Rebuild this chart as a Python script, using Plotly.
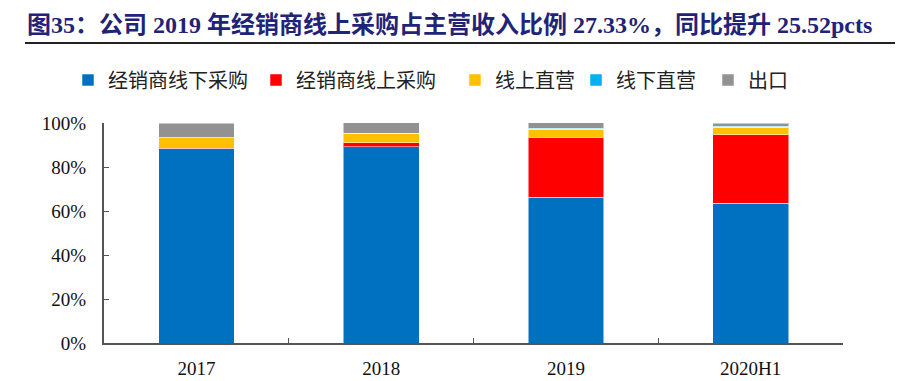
import plotly.graph_objects as go

categories = ["2017", "2018", "2019", "2020H1"]
series_names = ["经销商线下采购", "经销商线上采购", "线上直营", "线下直营", "出口"]
offline_dealer = [0.883, 0.893, 0.662, 0.635]
online_dealer = [0.003, 0.0181, 0.2733, 0.312]
online_direct = [0.046, 0.042, 0.036, 0.033]
offline_direct = [0.004, 0.000, 0.005, 0.006]
export = [0.064, 0.047, 0.024, 0.014]
colors = ["#0070C0", "#FF0000", "#FFC000", "#00B0F0", "#929292"]
tick_vals = [0, 0.2, 0.4, 0.6, 0.8, 1.0]
tick_text = ["0%", "20%", "40%", "60%", "80%", "100%"]
title_text = "图35：公司 2019 年经销商线上采购占主营收入比例 27.33%，同比提升 25.52pcts"

values = [offline_dealer, online_dealer, online_direct, offline_direct, export]

W, H = 898, 373          # page body has an 8px margin
L, T, PW, PH = 96, 115, 739, 220
legend_px = [60, 248, 447, 568, 700]

fig = go.Figure()
for i, (name, vals, col) in enumerate(zip(series_names, values, colors)):
    lg = "legend" if i == 0 else f"legend{i+1}"
    fig.add_trace(go.Bar(
        x=categories, y=vals, name=name,
        marker=dict(color=col, line=dict(color="rgba(255,255,255,0.5)", width=1)),
        legend=lg, width=0.41,
    ))

# decorative rule under the title, on a full-page overlay axis in pixel units
fig.add_trace(go.Scatter(
    x=[17, 887], y=[H - 35, H - 35], xaxis="x2", yaxis="y2",
    mode="lines", line=dict(color="#222222", width=2),
    showlegend=False, hoverinfo="skip", cliponaxis=False,
))

legend_font = dict(family="Noto Sans CJK SC", size=20, color="#222222")
layout_legends = {}
for i in range(5):
    key = "legend" if i == 0 else f"legend{i+1}"
    layout_legends[key] = dict(
        x=legend_px[i] / W, y=1 - 72 / H, xref="container", yref="container",
        xanchor="left", yanchor="middle", orientation="h",
        font=legend_font, bgcolor="rgba(255,255,255,0)", itemwidth=30,
    )

fig.update_layout(
    barmode="stack",
    width=W, height=H,
    margin=dict(l=0, r=0, t=0, b=0, autoexpand=False),
    paper_bgcolor="white", plot_bgcolor="rgba(0,0,0,0)",
    showlegend=True,
    **layout_legends,
)

axis_font = dict(family="Liberation Serif", size=19, color="#111111")
fig.update_layout(
    xaxis=dict(
        domain=[L / W, (L + PW) / W], anchor="y",
        showgrid=False, showline=True, linecolor="#555555", linewidth=2,
        ticks="inside", tickson="boundaries", ticklen=5, tickcolor="#555555",
        automargin=False, tickfont=axis_font, ticklabelstandoff=7,
    ),
    yaxis=dict(
        domain=[(H - T - PH) / H, (H - T) / H], anchor="x",
        range=[0, 1], tickvals=tick_vals, ticktext=tick_text,
        showgrid=False, zeroline=False, automargin=False,
        showline=True, linecolor="#555555", linewidth=2,
        ticks="inside", ticklen=5, tickcolor="#555555",
        tickfont=axis_font, ticklabelstandoff=12,
    ),
    xaxis2=dict(domain=[0, 1], range=[0, W], anchor="y2",
                showgrid=False, zeroline=False, showline=False,
                showticklabels=False, ticks="", fixedrange=True),
    yaxis2=dict(domain=[0, 1], range=[0, H], anchor="x2",
                showgrid=False, zeroline=False, showline=False,
                showticklabels=False, ticks="", fixedrange=True),
)

# title as a paper annotation
fig.add_annotation(
    text=f"<b>{title_text}</b>", xref="paper", yref="paper",
    x=17 / W, y=1 - 17 / H, xanchor="left", yanchor="middle",
    showarrow=False,
    font=dict(family="Liberation Serif, Noto Sans CJK SC", size=24, color="#1F2478"),
)
fig.add_shape(type="line", xref="paper", yref="paper",
              x0=17 / W, x1=887 / W, y0=1 - 35 / H, y1=1 - 35 / H,
              layer="above", line=dict(color="#222222", width=2))

fig.write_html("out.html")
